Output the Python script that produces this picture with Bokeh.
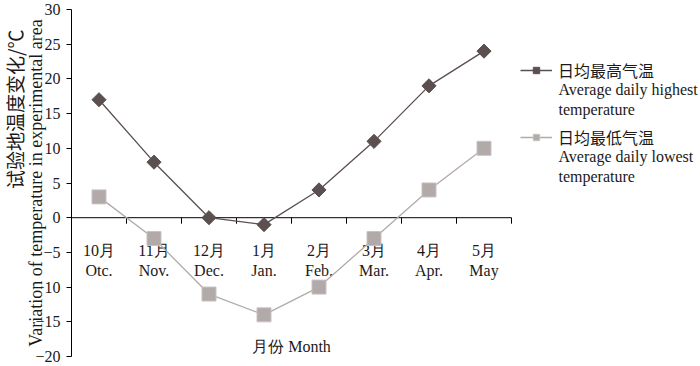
import math
from bokeh.plotting import figure
from bokeh.models import Range1d, Label, Legend, LegendItem, FixedTicker, Title
from bokeh.core.properties import value
from bokeh.embed import file_html
from bokeh.resources import INLINE

months_cn = ["10月", "11月", "12月", "1月", "2月", "3月", "4月", "5月"]
months_en = ["Otc.", "Nov.", "Dec.", "Jan.", "Feb.", "Mar.", "Apr.", "May"]
high = [17, 8, 0, -1, 4, 11, 19, 24]
low = [3, -3, -11, -14, -10, -3, 4, 10]
y_ticks = [-20, -15, -10, -5, 0, 5, 10, 15, 20, 25, 30]

SERIF = "Liberation Serif"
CJK = "Noto Sans CJK SC"
HIGH_C = "#5b4f50"
LOW_C = "#b2a9a9"
TXT = "#1a1a1a"

n = len(months_cn)
xs = [i + 0.5 for i in range(n)]
ymin, ymax = y_ticks[0], y_ticks[-1]

W, H = 700, 366
left, top, bottom = 71, 9, 10
frame_h = H - top - bottom
frame_b = H - bottom            # page y of frame bottom
ppu = frame_h / (ymax - ymin)
cat_w = 55
frame_w = W - left
p = figure(width=W, height=H, output_backend="svg", toolbar_location=None,
           x_range=Range1d(0, frame_w / cat_w), y_range=Range1d(ymin, ymax),
           min_border_left=left, min_border_right=0, min_border_top=top,
           min_border_bottom=bottom)
p.outline_line_color = None
p.grid.visible = False
p.xaxis.visible = False
ya = p.yaxis[0]
ya.ticker = FixedTicker(ticks=y_ticks)
ya.minor_tick_line_color = None
ya.major_tick_in = 0
ya.major_tick_out = 5
ya.axis_line_color = "black"
ya.major_tick_line_color = "black"
ya.major_label_text_font = SERIF
ya.major_label_text_font_size = "16px"
ya.major_label_text_color = TXT
ya.major_label_standoff = 6
ya.major_label_overrides = {t: str(t).replace("-", "\u2212") for t in y_ticks}
ya.axis_label = "Variation of temperature in experimental area"
ya.axis_label_text_font = SERIF
ya.axis_label_text_font_size = "18px"
ya.axis_label_text_font_style = "normal"
ya.axis_label_text_color = TXT
ya.axis_label_standoff = -14

p.add_layout(Title(text="试验地温度变化/℃", align="right", offset=20, standoff=-9,
                   text_font=CJK, text_font_size="19px", text_font_style="normal",
                   text_color=TXT), "left")

# zero axis line with downward ticks at category boundaries
p.segment(x0=[0], y0=[0], x1=[n], y1=[0], line_color="black", line_width=1)
bx = list(range(1, n + 1))
p.segment(x0=bx, y0=[0] * n, x1=bx, y1=[-6 / ppu] * n, line_color="black", line_width=1)

p.text(x=xs, y=[0] * n, text=months_cn, y_offset=33, text_align="center",
       text_baseline="middle", text_font=value(SERIF), text_font_size="16px",
       text_color=TXT)
p.text(x=xs, y=[0] * n, text=months_en, y_offset=53, text_align="center",
       text_baseline="middle", text_font=value(SERIF), text_font_size="16px",
       text_color=TXT)
p.text(x=[n / 2], y=[ymin], text=["月份 Month"], y_offset=-10, text_align="center",
       text_baseline="middle", text_font=value(SERIF), text_font_size="16px",
       text_color=TXT)

lh = p.line(xs, high, line_color=HIGH_C, line_width=1.3)
mh = p.scatter(xs, high, marker="square", angle=math.pi / 4, size=10,
               fill_color=HIGH_C, line_color=HIGH_C)
ll = p.line(xs, low, line_color=LOW_C, line_width=1.3)
ml = p.scatter(xs, low, marker="square", size=14, fill_color=LOW_C, line_color="#c8c2c2")

legend = Legend(items=[LegendItem(label="日均最高气温", renderers=[lh, mh]),
                       LegendItem(label="日均最低气温", renderers=[ll, ml])],
                location=(520 - left, frame_b - 149), orientation="vertical", spacing=43,
                glyph_width=32, glyph_height=16, label_standoff=6,
                label_text_font=CJK, label_text_font_size="16px",
                label_text_color=TXT, border_line_color=None,
                background_fill_alpha=0, padding=0, margin=0, label_height=16)
p.add_layout(legend)

for txt, yy in zip(["Average daily highest", "temperature",
                    "Average daily lowest", "temperature"], [89, 109, 156, 176]):
    p.add_layout(Label(x=558 - left, y=frame_b - yy, x_units="screen", y_units="screen",
                       text=txt, text_font=SERIF, text_font_size="16px",
                       text_color=TXT, text_baseline="middle"))

open("out.html", "w").write(file_html(p, INLINE))
